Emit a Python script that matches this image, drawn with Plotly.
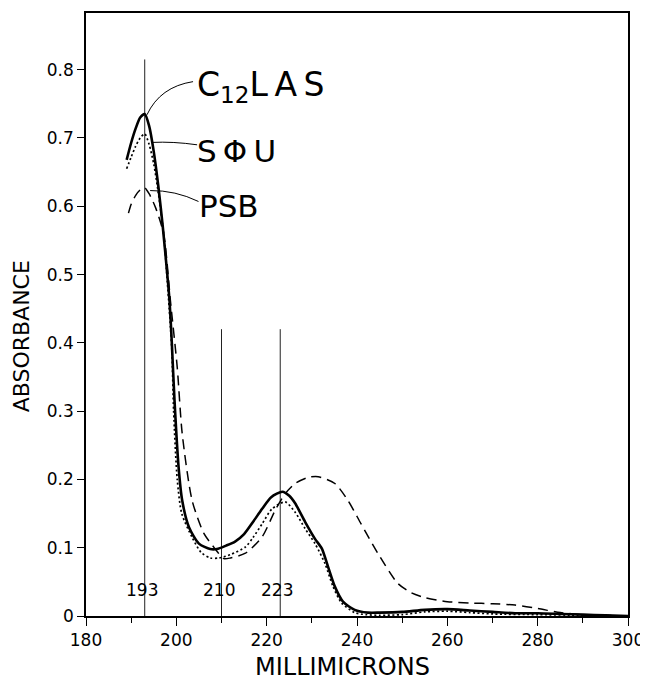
import plotly.graph_objects as go

# ---- data ----
las_x = [189, 190, 191, 192, 193, 194, 195, 196, 197, 198, 198.5, 199, 199.6, 200.5, 201.3, 202.8,
         205, 207.5, 209, 211, 213, 215, 217, 219, 221, 223.5, 225, 226.3, 228.5, 230.7, 232.2,
         233.6, 235.1, 236.9, 239.5, 242.4, 245, 250, 255, 260, 265, 270, 275, 280, 285, 290, 295, 300]
las_y = [0.668, 0.693, 0.714, 0.730, 0.735, 0.717, 0.680, 0.630, 0.570, 0.500, 0.461, 0.400, 0.315,
         0.218, 0.169, 0.130, 0.106, 0.098, 0.098, 0.103, 0.109, 0.120, 0.138, 0.157, 0.174, 0.182,
         0.176, 0.165, 0.138, 0.113, 0.099, 0.072, 0.043, 0.021, 0.009, 0.005, 0.005, 0.006, 0.009,
         0.010, 0.008, 0.006, 0.004, 0.004, 0.003, 0.002, 0.001, 0.0]

sou_x = [189, 190, 191, 192, 193, 194, 195, 196, 197.2, 198, 199, 199.4, 200.2, 201.2, 203.5, 205.5,
         207.5, 209.5, 212, 215.3, 217, 219, 221.2, 224.1, 226.3, 228.5, 230.7, 232.9, 234.7, 236.6,
         239.5, 242, 245, 250, 255, 260, 265, 270, 280, 290, 300]
sou_y = [0.655, 0.672, 0.688, 0.700, 0.706, 0.690, 0.662, 0.620, 0.559, 0.490, 0.390, 0.300, 0.200,
         0.150, 0.115, 0.093, 0.085, 0.085, 0.090, 0.101, 0.115, 0.135, 0.157, 0.167, 0.152, 0.128,
         0.106, 0.077, 0.043, 0.019, 0.005, 0.002, 0.001, 0.002, 0.006, 0.007, 0.005, 0.003, 0.002,
         0.001, 0.0]

psb_x = [189.4, 190, 191, 192, 193, 194, 195.4, 197.2, 198.7, 200.2, 201.3, 203.5, 206.1, 208.5,
         210.5, 212, 215.3, 219, 221.9, 224.1, 226.3, 229.2, 231.4, 235.1, 238, 240.9, 244.6, 249,
         252, 255, 260, 265, 270, 275, 280, 285, 290, 295, 300]
psb_y = [0.590, 0.603, 0.616, 0.624, 0.627, 0.618, 0.598, 0.559, 0.461, 0.364, 0.267, 0.169, 0.121,
         0.099, 0.084, 0.085, 0.092, 0.116, 0.155, 0.179, 0.194, 0.203, 0.204, 0.194, 0.169, 0.135,
         0.092, 0.048, 0.034, 0.027, 0.021, 0.019, 0.018, 0.016, 0.011, 0.005, 0.002, 0.001, 0.0]

peak_x = [193, 210, 223]
peak_top = [0.815, 0.42, 0.42]
peak_labels = ["193", "210", "223"]

x_ticks = [180, 200, 220, 240, 260, 280, 300]
y_ticks = [0, 0.1, 0.2, 0.3, 0.4, 0.5, 0.6, 0.7, 0.8]
y_tick_labels = ["0", "0.1", "0.2", "0.3", "0.4", "0.5", "0.6", "0.7", "0.8"]

FONT = "DejaVu Sans"

fig = go.Figure()

# reference vertical lines
for px, top in zip(peak_x, peak_top):
    fig.add_trace(go.Scatter(x=[px, px], y=[0, top], mode="lines",
                             line=dict(color="#222", width=1), hoverinfo="skip", showlegend=False))

fig.add_trace(go.Scatter(x=psb_x, y=psb_y, mode="lines", name="PSB",
                         line=dict(color="black", width=1.5, dash="10px,6px", shape="spline", smoothing=0.7),
                         showlegend=False))
fig.add_trace(go.Scatter(x=sou_x, y=sou_y, mode="lines", name="SΦU",
                         line=dict(color="black", width=1.7, dash="2px,2.5px", shape="spline", smoothing=0.7),
                         showlegend=False))
fig.add_trace(go.Scatter(x=las_x, y=las_y, mode="lines", name="C12LAS",
                         line=dict(color="black", width=2.6, shape="spline", smoothing=0.7),
                         showlegend=False))

annotations = []
for px, lab in zip(peak_x, peak_labels):
    annotations.append(dict(x=px, y=0.038, xref="x", yref="y", text=lab, showarrow=False,
                            xshift=-3, font=dict(family=FONT, size=17, color="black")))

annotations += [
    dict(x=204.2, y=0.776, xref="x", yref="y", text="C<sub>12</sub>L\u2009A\u2009S", showarrow=False,
         xanchor="left", yanchor="middle", font=dict(family=FONT, size=33, color="black")),
    dict(x=204.2, y=0.681, xref="x", yref="y", text="S\u2009Φ\u2009U", showarrow=False,
         xanchor="left", yanchor="middle", font=dict(family=FONT, size=31, color="black")),
    dict(x=204.5, y=0.601, xref="x", yref="y", text="PSB", showarrow=False,
         xanchor="left", yanchor="middle", font=dict(family=FONT, size=31, color="black")),
    dict(x=-0.119, y=0.463, xref="paper", yref="paper", text="ABSORBANCE", showarrow=False,
         textangle=-90, xanchor="center", yanchor="middle", font=dict(family=FONT, size=22, color="black")),
    dict(x=0.474, y=-0.084, xref="paper", yref="paper", text="MILLIMICRONS", showarrow=False,
         xanchor="center", yanchor="middle", font=dict(family=FONT, size=24, color="black")),
]

shapes = [
    dict(type="path", xref="x", yref="y", path="M 203.7,0.7825 Q 196.4,0.775 193.5,0.734",
         line=dict(color="black", width=1)),
    dict(type="path", xref="x", yref="y", path="M 204.6,0.690 Q 199.3,0.695 194.6,0.6935",
         line=dict(color="black", width=1)),
    dict(type="path", xref="x", yref="y", path="M 204.9,0.607 Q 199.8,0.6234 194.2,0.623",
         line=dict(color="black", width=1)),
]

# the page body has an 8px margin; the plot area is placed to match the reference
fig.update_layout(
    width=648, height=672,
    margin=dict(l=78, r=28, t=3, b=64),
    paper_bgcolor="white", plot_bgcolor="white",
    annotations=annotations, shapes=shapes,
    font=dict(family=FONT, color="black"),
    xaxis=dict(range=[180, 300], tickvals=x_ticks, ticks="outside", ticklen=8, tickwidth=1,
               tickcolor="black", showline=True, linecolor="black", linewidth=1.5, mirror=True,
               showgrid=False, zeroline=False, ticklabeloverflow="allow",
               tickfont=dict(family=FONT, size=17, color="black"),
               minor=dict(dtick=10, tick0=180, ticks="outside", ticklen=5, tickcolor="black", showgrid=False)),
    yaxis=dict(range=[0, 0.883], tickvals=y_ticks, ticktext=y_tick_labels, ticks="outside", ticklen=7,
               tickwidth=1, tickcolor="black", showline=True, linecolor="black", linewidth=1.5,
               mirror=True, showgrid=False, zeroline=False,
               tickfont=dict(family=FONT, size=17, color="black")),
)

fig.write_html("out.html")
